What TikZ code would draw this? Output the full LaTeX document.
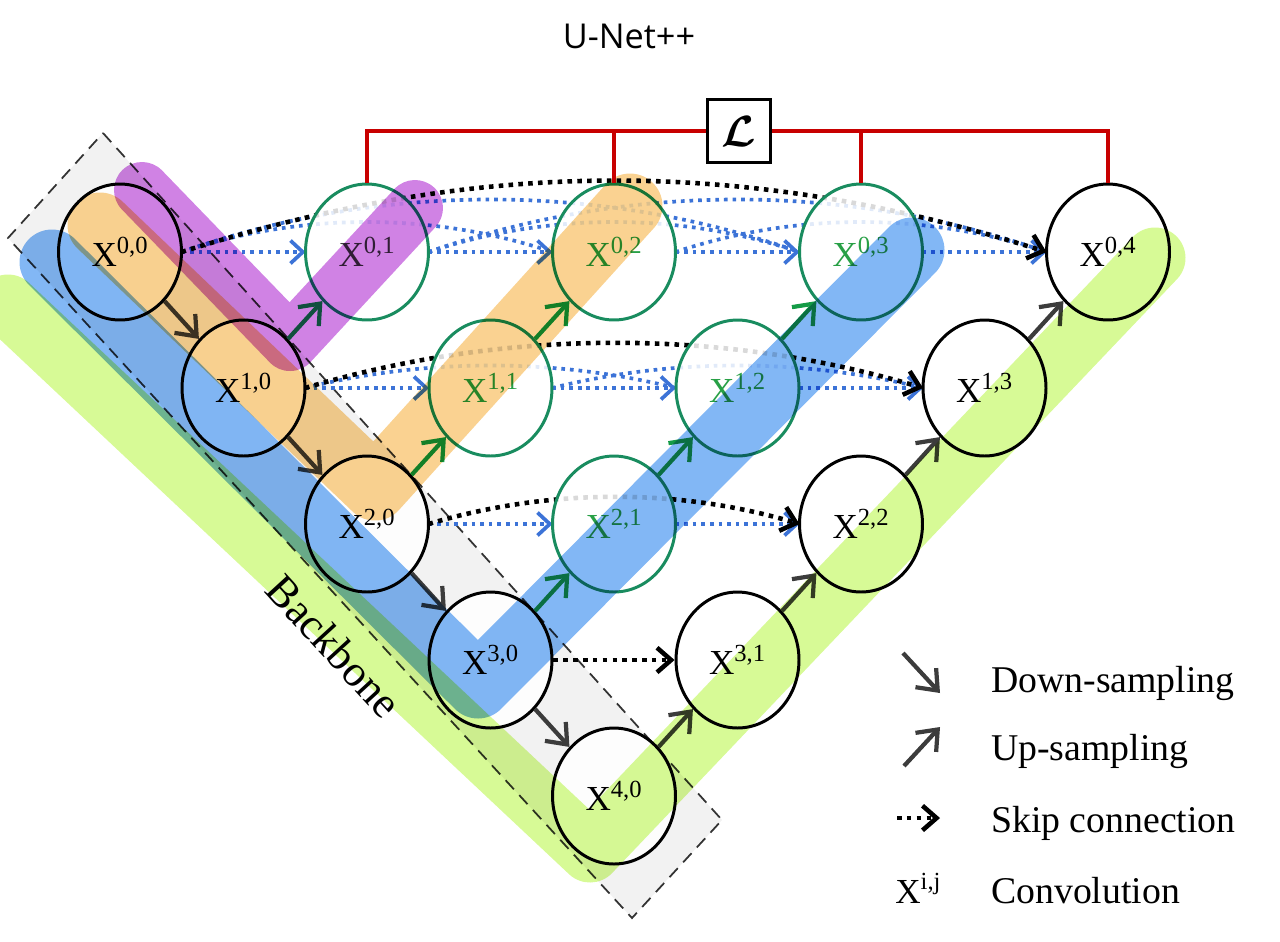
\documentclass[tikz,border=0pt]{standalone}
\usepackage{fontspec}
\usepackage{bm}
\setmainfont{Liberation Serif}
\newfontfamily\titlefont{Open Sans}
\usetikzlibrary{arrows.meta,shapes.geometric}

\definecolor{nodegreen}{RGB}{25,140,95}
\definecolor{textgreen}{RGB}{40,160,70}
\definecolor{arrowgreen}{RGB}{20,155,70}
\definecolor{darkarrow}{RGB}{60,60,60}
\definecolor{skipblue}{RGB}{60,115,215}
\definecolor{lossred}{RGB}{200,0,0}
\definecolor{hlgreen}{RGB}{215,250,150}
\definecolor{hlblue}{RGB}{130,183,245}
\definecolor{hlorange}{RGB}{250,210,145}
\definecolor{hlpurple}{RGB}{208,130,228}

\begin{document}
\begin{tikzpicture}[x=0.02cm, y=-0.02cm,
  conv/.style={ellipse, draw=black, line width=1.7pt, fill=white, fill opacity=0.85, text opacity=1,
    minimum width=2.46cm, minimum height=2.72cm, inner sep=0pt, font=\fontsize{20}{24}\selectfont},
  nested/.style={conv, draw=nodegreen, text=textgreen},
  down/.style={draw=darkarrow, line width=2.4pt, -{Straight Barb[length=10pt,width=16pt]}},
  upgreen/.style={down, draw=arrowgreen},
  skip/.style={draw=black, line width=2.6pt, dash pattern=on 2.6pt off 3pt, -{Straight Barb[length=8pt,width=14pt]}},
  dense/.style={draw=skipblue, line width=2.1pt, dash pattern=on 2.1pt off 2.8pt, -{Straight Barb[length=7pt,width=13pt]}},
  densearc/.style={draw=skipblue, line width=2.1pt, dash pattern=on 2.1pt off 2.8pt},
  band/.style={line width=1.3cm, line cap=round, line join=round, blend mode=multiply},
  bus/.style={draw=lossred, line width=2.3pt},
  legend/.style={font=\fontsize{21.5}{26}\selectfont, anchor=base west}
]
\useasboundingbox (0,0) rectangle (1280,941);

% backbone
\draw[draw=black!80, line width=1pt, dash pattern=on 7pt off 4.5pt, fill=black!5]
  (103,133) -- (722,820) -- (632,918) -- (8,238) -- cycle;

% skip pathways
\coordinate (x00e) at (181.5,252);
\coordinate (x01e) at (428.5,252);
\coordinate (x02e) at (675.5,252);
\coordinate (x03e) at (922.5,252);
\coordinate (x01w) at (305.5,252);
\coordinate (x02w) at (552.5,252);
\coordinate (x03w) at (799.5,252);
\coordinate (x04w) at (1046.5,252);
\coordinate (x10e) at (305,388);
\coordinate (x11e) at (552,388);
\coordinate (x12e) at (799,388);
\coordinate (x11w) at (429,388);
\coordinate (x12w) at (676,388);
\coordinate (x13w) at (923,388);
\coordinate (x20e) at (428.5,524);
\coordinate (x21e) at (675.5,524);
\coordinate (x21w) at (552.5,524);
\coordinate (x22w) at (799.5,524);

\draw[densearc] (x00e) .. controls +(200,-70) and +(-200,-70) .. (x03w);
\draw[densearc] (x01e) .. controls +(200,-70) and +(-200,-70) .. (x04w);
\draw[densearc] (x00e) .. controls +(120,-40) and +(-120,-40) .. (x02w);
\draw[densearc] (x01e) .. controls +(120,-40) and +(-120,-40) .. (x03w);
\draw[densearc] (x02e) .. controls +(120,-40) and +(-120,-40) .. (x04w);
\draw[dense] (x00e) -- (x01w);
\draw[dense] (x01e) -- (x02w);
\draw[dense] (x02e) -- (x03w);
\draw[dense] (x03e) -- (x04w);
\draw[skip] (x00e) .. controls +(300,-95) and +(-300,-95) .. (x04w);

\draw[densearc] (x10e) .. controls +(120,-30) and +(-120,-30) .. (x12w);
\draw[densearc] (x11e) .. controls +(120,-30) and +(-120,-30) .. (x13w);
\draw[dense] (x10e) -- (x11w);
\draw[dense] (x11e) -- (x12w);
\draw[dense] (x12e) -- (x13w);
\draw[skip] (x10e) .. controls +(200,-60) and +(-200,-60) .. (x13w);

\draw[dense] (x20e) -- (x21w);
\draw[dense] (x21e) -- (x22w);
\draw[skip] (x20e) .. controls +(120,-36) and +(-120,-36) .. (x22w);

\node[conv] (x00) at (120,252) {X\textsuperscript{0,0}};
\node[conv] (x10) at (243.5,388) {X\textsuperscript{1,0}};
\node[conv] (x20) at (367,524) {X\textsuperscript{2,0}};
\node[conv] (x30) at (490.5,660) {X\textsuperscript{3,0}};
\node[conv] (x40) at (614,796) {X\textsuperscript{4,0}};
\node[nested, text=darkarrow] (x01) at (367,252) {X\textsuperscript{0,1}};
\node[nested] (x11) at (490.5,388) {X\textsuperscript{1,1}};
\node[nested] (x21) at (614,524) {X\textsuperscript{2,1}};
\node[conv] (x31) at (737.5,660) {X\textsuperscript{3,1}};
\node[nested] (x02) at (614,252) {X\textsuperscript{0,2}};
\node[nested] (x12) at (737.5,388) {X\textsuperscript{1,2}};
\node[conv] (x22) at (861,524) {X\textsuperscript{2,2}};
\node[nested] (x03) at (861,252) {X\textsuperscript{0,3}};
\node[conv] (x13) at (984.5,388) {X\textsuperscript{1,3}};
\node[conv] (x04) at (1108,252) {X\textsuperscript{0,4}};

\draw[skip] (x30) -- (x31);

\draw[down] (x00) -- (x10);
\draw[down] (x10) -- (x20);
\draw[down] (x20) -- (x30);
\draw[down] (x30) -- (x40);
\draw[upgreen] (x10) -- (x01);
\draw[upgreen] (x20) -- (x11);
\draw[upgreen] (x11) -- (x02);
\draw[upgreen] (x30) -- (x21);
\draw[upgreen] (x21) -- (x12);
\draw[upgreen] (x12) -- (x03);
\draw[down] (x40) -- (x31);
\draw[down] (x31) -- (x22);
\draw[down] (x22) -- (x13);
\draw[down] (x13) -- (x04);

% highlighted sub-networks
\draw[band, hlgreen, line width=1.22cm] (8,305) -- (590,852) -- (1155,258);
\draw[band, hlblue] (52,262) -- (478,686) -- (912,250);
\draw[band, hlorange] (100,225) -- (375,488) -- (630,206);
\draw[band, hlpurple, line width=1.12cm] (142,190) -- (290,343) -- (415,208);

% deep supervision
\node[draw=black, line width=1.8pt, fill=white, minimum size=1.26cm, inner sep=0pt,
  font=\fontsize{26}{30}\selectfont] (loss) at (739,131) {$\bm{\mathcal{L}}$};
\draw[bus] (x01.north) |- (loss.west);
\draw[bus] (loss.east) -| (x04.north);
\draw[bus] (x02.north) -- (x02.north |- loss.west);
\draw[bus] (x03.north) -- (x03.north |- loss.east);

\node[font=\titlefont\fontsize{19.5}{23}\selectfont, anchor=base] (title) at (629,48) {U-Net++};
\node[rotate=-47.5, font=\fontsize{25}{30}\selectfont, inner sep=0pt] (bbtext) at (334,646) {Backbone};

% legend
\coordinate (dsA) at (903,653);
\coordinate (dsB) at (940,693);
\coordinate (usA) at (904,766);
\coordinate (usB) at (940,727);
\coordinate (skA) at (897,818);
\coordinate (skB) at (940,818);
\draw[down] (dsA) -- (dsB);
\draw[down] (usA) -- (usB);
\draw[skip] (skA) -- (skB);
\node[font=\fontsize{20}{24}\selectfont, anchor=base west, inner sep=0pt] (lgconv) at (895,903) {X\textsuperscript{i,j}};
\node[legend] (lgdown) at (985,692) {Down-sampling};
\node[legend] (lgup) at (985,760) {Up-sampling};
\node[legend] (lgskip) at (985,832) {Skip connection};
\node[legend] (lgtext) at (985,903) {Convolution};
\end{tikzpicture}
\end{document}
